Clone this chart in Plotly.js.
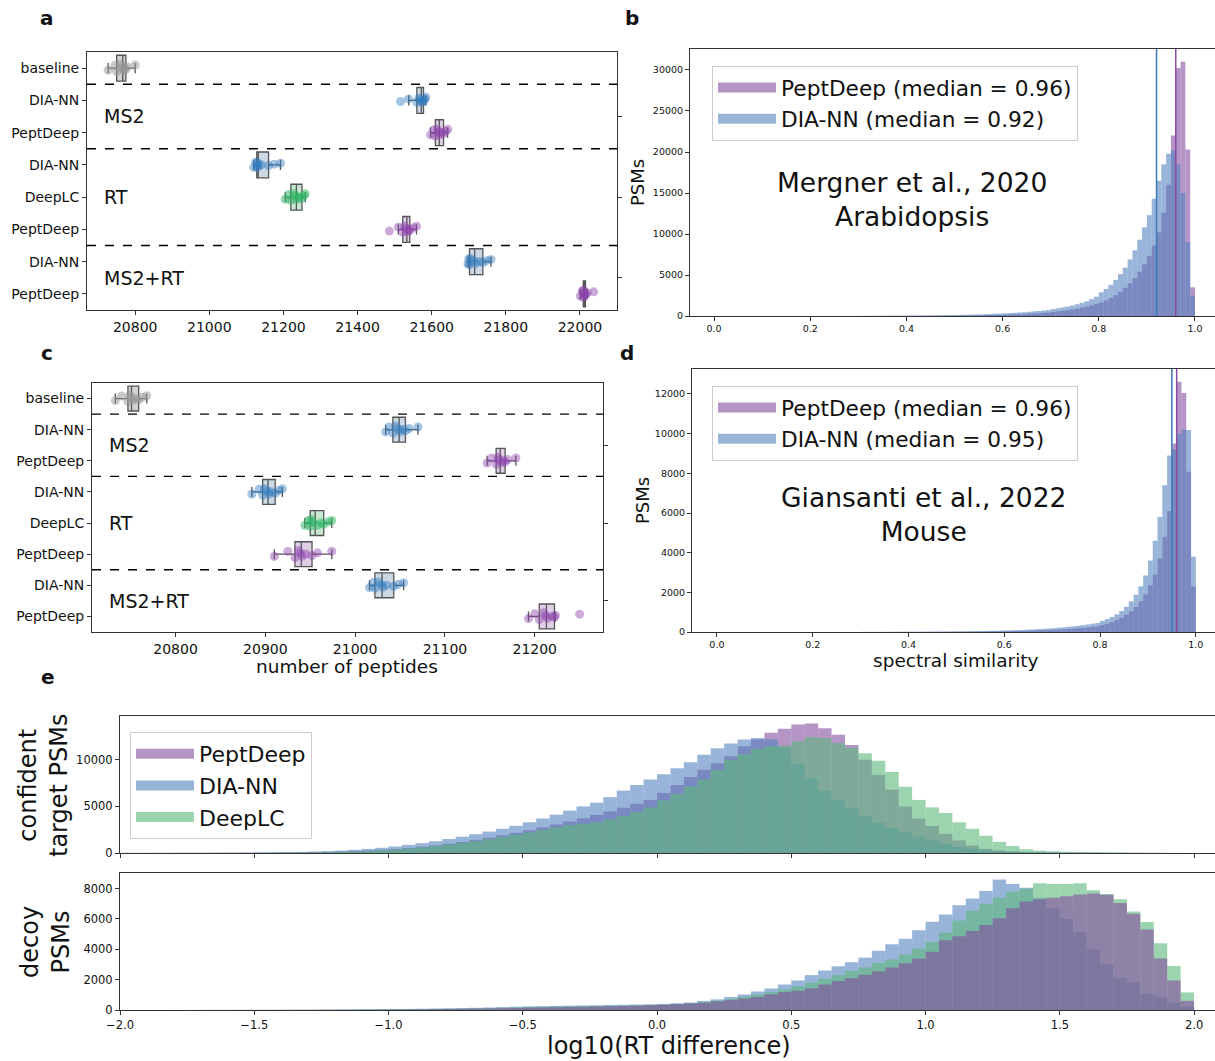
<!DOCTYPE html>
<html><head><meta charset="utf-8">
<script src="https://cdn.plot.ly/plotly-3.0.1.min.js"></script>
<style>html,body{margin:0;padding:0;background:#fff;} #chart{width:1215px;height:1061px;}</style>
</head><body><div id="chart"></div>
<script>
// ---------------- data ----------------
const rowLabels = ['baseline','DIA-NN','PeptDeep','DIA-NN','DeepLC','PeptDeep','DIA-NN','PeptDeep'];
const rowTools  = ['baseline','DIA-NN','PeptDeep','DIA-NN','DeepLC','PeptDeep','DIA-NN','PeptDeep'];
const groupNames = ['MS2','RT','MS2+RT'];
const groupCenters = [1.5, 4, 6.5];
const groupBreaks = [0.5, 2.5, 5.5];

// panel a: number of peptides per run (Mergner et al.)
const a_baseline      = [20727,20745,20750,20760,20765,20768,20770,20775,20778,20800];
const a_ms2_diann     = [21516,21538,21560,21565,21571,21573,21576,21578,21582,21584];
const a_ms2_peptdeep  = [21597,21605,21610,21615,21619,21622,21627,21632,21638,21643];
const a_rt_diann      = [21120,21125,21128,21130,21131,21133,21140,21160,21175,21192];
const a_rt_deeplc     = [21205,21215,21220,21228,21233,21237,21242,21250,21255,21259];
const a_rt_peptdeep   = [21486,21510,21522,21527,21531,21535,21538,21541,21550,21559];
const a_ms2rt_diann   = [21698,21700,21702,21704,21714,21718,21728,21738,21748,21760];
const a_ms2rt_peptdeep= [22001,22006,22009,22010,22011,22012,22013,22015,22020,22037];

// panel c: number of peptides per run (Giansanti et al.)
const c_baseline      = [20733,20740,20747,20749,20750,20752,20755,20759,20763,20768];
const c_ms2_diann     = [21034,21038,21042,21045,21048,21050,21053,21056,21060,21070];
const c_ms2_peptdeep  = [21147,21152,21157,21159,21160,21163,21165,21167,21170,21179];
const c_rt_diann      = [20885,20893,20897,20899,20902,20904,20906,20911,20915,20919];
const c_rt_deeplc     = [20944,20948,20950,20951,20953,20958,20962,20965,20970,20974];
const c_rt_peptdeep   = [20910,20925,20933,20937,20939,20941,20945,20952,20958,20974];
const c_ms2rt_diann   = [21016,21020,21022,21026,21029,21031,21035,21043,21048,21054];
const c_ms2rt_peptdeep= [21193,21200,21205,21210,21212,21214,21219,21222,21223,21250];

// panel b / d: spectral similarity histograms (bin width 0.01, first bin centre 0.305)
const simBinStart = 0.305, simBinWidth = 0.01;
const b_peptdeep = [5,6,7,8,9,10,11,12,14,16, 18,20,22,25,28,31,35,39,44,49, 55,61,68,76,85,95,106,118,131,146,
  163,181,201,224,249,277,308,342,380,422, 500,560,630,710,800,900,1010,1140,1290,1460,
  1650,1900,2200,2550,2950,3450,4000,4650,5400,6300, 7300,8600,10200,12600,16000,22000,30250,31000,20300,3500];
const b_diann = [15,17,19,21,24,27,30,33,37,41, 45,50,56,62,69,76,84,93,103,114, 126,139,153,168,185,203,223,245,269,295,
  323,354,388,425,465,509,557,609,666,728, 850,940,1040,1150,1280,1430,1600,1800,2050,2350,
  2900,3300,3800,4400,5100,5900,6900,8000,9300,10800, 12300,14300,16500,18500,19800,20200,18500,15000,9000,2500];
const d_peptdeep = [2,2,2,3,3,3,4,4,4,5, 5,6,6,7,8,9,10,11,12,13, 15,16,18,20,22,24,27,30,33,36,
  40,44,49,54,60,66,73,81,90,100, 111,123,137,152,169,188,209,232,258,287,
  350,420,500,600,720,870,1050,1270,1550,1900, 2350,2900,3700,4800,6100,9500,12620,12050,8080,2280];
const d_diann = [5,5,6,6,7,8,8,9,10,11, 12,13,14,16,17,19,21,23,25,28, 30,33,37,40,44,48,53,58,64,70,
  77,85,93,102,112,123,135,148,163,179, 197,216,238,261,287,315,346,380,418,459,
  560,650,760,890,1060,1270,1540,1880,2300,2850, 3600,4600,5800,7400,8900,9200,10000,10200,10190,3800];
const medianB = [0.96, 0.92];   // PeptDeep, DIA-NN
const medianD = [0.96, 0.95];

// panel e: log10(RT difference) histograms (bin width 0.05, first bin centre -1.975)
const rtBinStart = -1.975, rtBinWidth = 0.05;
const eTop_peptdeep = [6,7,8,10,12,14,17,21,26,32, 40,50,62,78,98,125,160,205,265,340,
  430,540,670,820,990,1180,1400,1640,1900,2170, 2450,2750,3060,3380,3720,4080,4460,4860,5280,5700,
  6450,7300,8150,8950,9650,10400,11450,12200,12900,13350, 13800,13900,13400,12700,11600,10000,8400,6800,5000,3700,
  2900,2050,1350,800,450,260,160,110,80,60, 48,38,30,24,18,14,10,7,5,3];
const eTop_diann = [10,12,14,16,19,22,26,30,35,41, 60,75,95,120,155,200,260,340,440,560,
  700,870,1060,1270,1500,1750,2020,2300,2600,2920, 3300,3700,4120,4550,5000,5400,6000,6700,7300,7900,
  8450,9100,9750,10550,11250,11750,12200,12350,12200,11300, 9600,8000,6700,5700,4800,3950,3250,2700,2200,1750,
  1350,1000,650,420,300,210,150,110,85,65, 50,40,32,25,19,14,10,7,5,3];
const eTop_deeplc = [3,4,5,6,7,8,10,12,14,17, 20,25,31,38,47,80,110,150,210,290,
  380,480,600,740,900,1080,1280,1500,1730,1970, 2220,2480,2750,3000,3150,3300,3600,4000,4400,4900,
  5650,6350,7150,7900,8900,10000,10600,11200,11450,11550, 12000,12450,12350,11800,11300,10700,9900,8700,7100,5700,
  4900,4300,3300,2600,1850,1200,750,400,250,180, 130,100,80,60,45,30,20,12,7,3];
const eBot_diann = [1,1,2,2,3,3,4,5,6,8, 10,12,14,16,19,23,28,35,43,52,
  60,70,82,95,110,127,145,165,190,215, 240,255,270,285,300,315,330,345,360,380,
  400,440,490,600,700,860,1020,1220,1420,1680, 1950,2300,2600,2880,3150,3450,3900,4330,4700,5250,
  5810,6300,6900,7350,7850,8600,8300,8050,7400,6700, 6000,5100,4000,3000,2100,1800,1050,870,480,220];
const eBot_deeplc = [1,1,1,2,2,3,3,4,5,6, 7,9,10,12,14,17,21,26,32,39,
  46,54,63,73,85,98,113,130,150,170, 190,205,220,235,250,265,280,295,310,330,
  360,400,450,520,620,720,870,1030,1180,1350, 1560,1800,2050,2300,2580,2800,3100,3330,3650,4050,
  4490,5090,5900,6550,7000,7400,7800,8000,8350,8300, 8300,8350,7900,7650,7300,6500,5800,4400,2900,1160];
const eBot_peptdeep = [1,1,1,1,2,2,3,3,4,5, 6,7,8,10,12,14,17,20,24,29,
  34,40,47,55,64,74,86,100,115,132, 150,165,180,195,210,225,245,265,285,310,
  340,390,440,480,570,650,750,860,1030,1180, 1270,1430,1680,1900,2100,2320,2540,2800,3080,3380,
  3835,4600,4860,5200,5600,6050,6700,7150,7300,7400, 7500,7620,7680,7600,7050,6350,5300,3400,1950,600];

// ---------------- styles ----------------
const W = 1215, H = 1061;
const px = v => v / W, py = v => 1 - v / H;
const FONT = 'DejaVu Sans';
const toolPoint = {'baseline':'rgba(150,150,150,0.5)','DIA-NN':'rgba(52,125,190,0.45)','PeptDeep':'rgba(142,68,173,0.45)','DeepLC':'rgba(46,180,100,0.5)'};
const toolFill  = {'baseline':'rgba(205,205,205,0.9)','DIA-NN':'rgba(200,214,228,0.95)','PeptDeep':'rgba(222,206,230,0.95)','DeepLC':'rgba(196,232,210,0.95)'};
const histColor = {'PeptDeep':'rgba(132,77,160,0.6)','DIA-NN':'rgba(83,130,190,0.6)','DeepLC':'rgba(92,183,123,0.6)'};
const legendPatch = {'PeptDeep':'#b594c6','DIA-NN':'#98b4d8','DeepLC':'#9dd4b0'};
const medColor = {'PeptDeep':'#8a4aa2','DIA-NN':'#3a7ab8'};

const traces = [];
function addBoxes(rows, xa, ya) {
  rows.forEach((vals, i) => {
    const tool = rowTools[i];
    traces.push({type:'box', orientation:'h', x: vals, y0: i, xaxis: xa, yaxis: ya,
      width: 0.8, boxpoints:'all', pointpos:0, jitter:0.35, whiskerwidth:0.4,
      fillcolor: toolFill[tool], line:{color:'#555', width:1.3},
      marker:{color: toolPoint[tool], size:9, line:{width:0}},
      showlegend:false, hoverinfo:'skip'});
  });
}
addBoxes([a_baseline,a_ms2_diann,a_ms2_peptdeep,a_rt_diann,a_rt_deeplc,a_rt_peptdeep,a_ms2rt_diann,a_ms2rt_peptdeep], 'x', 'y');
addBoxes([c_baseline,c_ms2_diann,c_ms2_peptdeep,c_rt_diann,c_rt_deeplc,c_rt_peptdeep,c_ms2rt_diann,c_ms2rt_peptdeep], 'x2', 'y2');
// dummy traces so the right-hand overlay axes are drawn
traces.push({type:'scatter', x:[null], y:[null], xaxis:'x', yaxis:'y7', showlegend:false, hoverinfo:'skip'});
traces.push({type:'scatter', x:[null], y:[null], xaxis:'x2', yaxis:'y8', showlegend:false, hoverinfo:'skip'});

function hist(vals, x0, dx, tool, xa, ya) {
  traces.push({type:'bar', y: vals, x0: x0, dx: dx, width: dx, xaxis: xa, yaxis: ya,
    marker:{color: histColor[tool], line:{width:0}}, showlegend:false, hoverinfo:'skip'});
}
// legend entries drawn as wide line swatches (matplotlib-like patches)
function legendEntry(name, tool, xa, ya, legend) {
  traces.push({type:'scatter', mode:'lines', x:[null], y:[null], xaxis:xa, yaxis:ya, name:name, legend:legend,
    line:{color: legendPatch[tool], width:15}, showlegend:true, hoverinfo:'skip'});
}
hist(b_peptdeep, simBinStart, simBinWidth, 'PeptDeep', 'x3','y3');
hist(b_diann,    simBinStart, simBinWidth, 'DIA-NN',   'x3','y3');
hist(d_peptdeep, simBinStart, simBinWidth, 'PeptDeep', 'x4','y4');
hist(d_diann,    simBinStart, simBinWidth, 'DIA-NN',   'x4','y4');
hist(eTop_peptdeep, rtBinStart, rtBinWidth, 'PeptDeep', 'x5','y5');
hist(eTop_diann,    rtBinStart, rtBinWidth, 'DIA-NN',   'x5','y5');
hist(eTop_deeplc,   rtBinStart, rtBinWidth, 'DeepLC',   'x5','y5');
hist(eBot_diann,    rtBinStart, rtBinWidth, 'DIA-NN',   'x6','y6');
hist(eBot_deeplc,   rtBinStart, rtBinWidth, 'DeepLC',   'x6','y6');
hist(eBot_peptdeep, rtBinStart, rtBinWidth, 'PeptDeep', 'x6','y6');
legendEntry(`PeptDeep (median = ${medianB[0].toFixed(2)})`, 'PeptDeep', 'x3','y3','legend');
legendEntry(`DIA-NN (median = ${medianB[1].toFixed(2)})`,   'DIA-NN',   'x3','y3','legend');
legendEntry(`PeptDeep (median = ${medianD[0].toFixed(2)})`, 'PeptDeep', 'x4','y4','legend2');
legendEntry(`DIA-NN (median = ${medianD[1].toFixed(2)})`,   'DIA-NN',   'x4','y4','legend2');
legendEntry('PeptDeep', 'PeptDeep', 'x5','y5','legend3');
legendEntry('DIA-NN',   'DIA-NN',   'x5','y5','legend3');
legendEntry('DeepLC',   'DeepLC',   'x5','y5','legend3');

const ax = {showline:true, mirror:true, linecolor:'#333', linewidth:1, ticks:'outside', ticklen:4,
  tickwidth:1, tickcolor:'#333', showgrid:false, zeroline:false, fixedrange:true};
const rowsRange = [7.5, -0.5];
const legBase = {xanchor:'left', yanchor:'top', bgcolor:'rgba(255,255,255,0.85)', bordercolor:'#cccccc', borderwidth:1, itemwidth:58, tracegroupgap:0};
const layout = {
  width:W, height:H, margin:{l:0,r:0,t:0,b:0}, paper_bgcolor:'#fff', plot_bgcolor:'#fff',
  font:{family:FONT, color:'#111'}, barmode:'overlay', hovermode:false, showlegend:true,
  // a
  xaxis:{...ax, domain:[px(87),px(617)], anchor:'y', range:[20670,22100], tickvals:[20800,21000,21200,21400,21600,21800,22000], tickformat:'d', tickfont:{size:14}},
  yaxis:{...ax, domain:[py(310),py(52)], anchor:'x', range:rowsRange, tickvals:[0,1,2,3,4,5,6,7], ticktext:rowLabels, tickfont:{size:14}},
  yaxis7:{overlaying:'y', side:'right', anchor:'x', range:rowsRange, tickvals:groupCenters, showticklabels:false, ticks:'outside', ticklen:4, tickcolor:'#333', showgrid:false, zeroline:false, showline:false},
  // c
  xaxis2:{...ax, domain:[px(92),px(603)], anchor:'y2', range:[20707,21276], tickvals:[20800,20900,21000,21100,21200], tickformat:'d', tickfont:{size:14}},
  yaxis2:{...ax, domain:[py(632),py(383)], anchor:'x2', range:rowsRange, tickvals:[0,1,2,3,4,5,6,7], ticktext:rowLabels, tickfont:{size:14}},
  yaxis8:{overlaying:'y2', side:'right', anchor:'x2', range:rowsRange, tickvals:groupCenters, showticklabels:false, ticks:'outside', ticklen:4, tickcolor:'#333', showgrid:false, zeroline:false, showline:false},
  // b
  xaxis3:{...ax, domain:[px(690),1], anchor:'y3', range:[-0.05,1.0416], tickvals:[0,0.2,0.4,0.6,0.8,1.0], tickformat:'.1f', tickfont:{size:9.5}},
  yaxis3:{...ax, domain:[py(316),py(49)], anchor:'x3', range:[0,32560], tickvals:[0,5000,10000,15000,20000,25000,30000], tickformat:'d', tickfont:{size:9.5}},
  // d
  xaxis4:{...ax, domain:[px(692),1], anchor:'y4', range:[-0.052,1.04], tickvals:[0,0.2,0.4,0.6,0.8,1.0], tickformat:'.1f', tickfont:{size:9.5}},
  yaxis4:{...ax, domain:[py(632),py(369)], anchor:'x4', range:[0,13260], tickvals:[0,2000,4000,6000,8000,10000,12000], tickformat:'d', tickfont:{size:9.5}},
  // e top
  xaxis5:{...ax, domain:[px(120),1], anchor:'y5', range:[-2,2.078], tickvals:[-2,-1.5,-1,-0.5,0,0.5,1,1.5,2], showticklabels:false},
  yaxis5:{...ax, domain:[py(853),py(716)], anchor:'x5', range:[0,14710], tickvals:[0,5000,10000], tickformat:'d', tickfont:{size:11.5}},
  // e bottom
  xaxis6:{...ax, domain:[px(120),1], anchor:'y6', range:[-2,2.078], tickvals:[-2,-1.5,-1,-0.5,0,0.5,1,1.5,2], tickformat:'.1f', tickfont:{size:11.5}},
  yaxis6:{...ax, domain:[py(1010),py(873)], anchor:'x6', range:[0,9030], tickvals:[0,2000,4000,6000,8000], tickformat:'d', tickfont:{size:11.5}},
  legend: {...legBase, x:px(712), y:py(66), font:{size:21.7, family:FONT}},
  legend2:{...legBase, x:px(712), y:py(386), font:{size:21.7, family:FONT}},
  legend3:{...legBase, x:px(130), y:py(732), font:{size:22, family:FONT}},
  shapes:[], annotations:[]
};

// dashed group separators
groupBreaks.forEach(b => {
  layout.shapes.push({type:'line', xref:'x domain', x0:0, x1:1, yref:'y', y0:b, y1:b, line:{color:'#000', width:1.3, dash:'dash'}});
  layout.shapes.push({type:'line', xref:'x2 domain', x0:0, x1:1, yref:'y2', y0:b, y1:b, line:{color:'#000', width:1.3, dash:'dash'}});
});
// median lines
[['x3','y3',medianB],['x4','y4',medianD]].forEach(([xa,ya,m]) => {
  layout.shapes.push({type:'line', xref:xa, x0:m[1], x1:m[1], yref:ya+' domain', y0:0, y1:1, line:{color:medColor['DIA-NN'], width:1.5}});
  layout.shapes.push({type:'line', xref:xa, x0:m[0], x1:m[0], yref:ya+' domain', y0:0, y1:1, line:{color:medColor['PeptDeep'], width:1.5}});
});

const ann = layout.annotations;
function txt(text, x, y, opts) { ann.push(Object.assign({text, x, y, xref:'paper', yref:'paper', showarrow:false, xanchor:'center', yanchor:'middle', font:{family:FONT, size:18, color:'#111'}}, opts||{})); }
// panel letters
[['a',47,18],['b',632,18],['c',47,353],['d',627,353],['e',48,677]].forEach(([t,x,y]) => txt('<b>'+t+'</b>', px(x), py(y), {font:{family:FONT, size:20, color:'#111'}}));
// group labels
groupNames.forEach((g,i) => {
  ann.push({text:g, xref:'paper', x:px(102), yref:'y', y:groupCenters[i], showarrow:false, xanchor:'left', yanchor:'middle', font:{family:FONT, size:19, color:'#111'}});
  ann.push({text:g, xref:'paper', x:px(107), yref:'y2', y:groupCenters[i], showarrow:false, xanchor:'left', yanchor:'middle', font:{family:FONT, size:19, color:'#111'}});
});
// dataset labels
txt('Mergner et al., 2020<br>Arabidopsis', px(912), py(199), {font:{family:FONT, size:26.5, color:'#111'}});
txt('Giansanti et al., 2022<br>Mouse', px(923), py(514), {font:{family:FONT, size:26.5, color:'#111'}});
// axis titles
txt('PSMs', px(637), py(183), {textangle:-90, font:{family:FONT, size:18, color:'#111'}});
txt('PSMs', px(642), py(500), {textangle:-90, font:{family:FONT, size:18, color:'#111'}});
txt('number of peptides', px(347), py(666), {font:{family:FONT, size:18.5, color:'#111'}});
txt('spectral similarity', px(956), py(660), {font:{family:FONT, size:18.5, color:'#111'}});
txt('confident<br>target PSMs', px(43), py(785), {textangle:-90, font:{family:FONT, size:24, color:'#111'}});
txt('decoy<br>PSMs', px(45), py(942), {textangle:-90, font:{family:FONT, size:24, color:'#111'}});
txt('log10(RT difference)', px(669), py(1046), {font:{family:FONT, size:24, color:'#111'}});

Plotly.newPlot('chart', traces, layout, {staticPlot:true, displayModeBar:false});
</script></body></html>
